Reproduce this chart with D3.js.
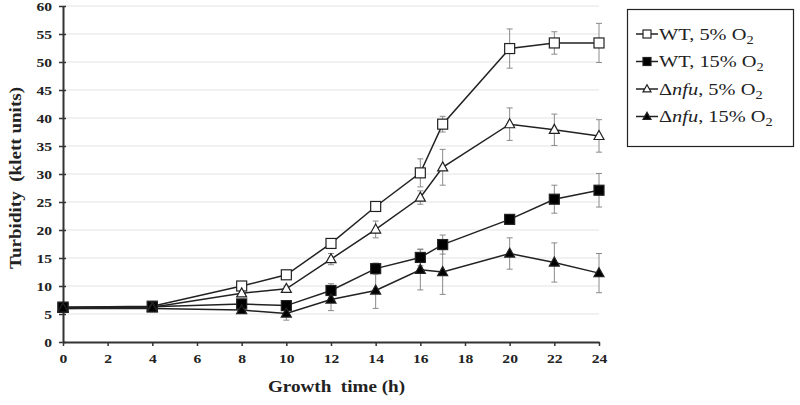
<!DOCTYPE html>
<html><head><meta charset="utf-8">
<script src="https://cdn.jsdelivr.net/npm/d3@7"></script>
<style>body{margin:0;background:#fff}svg{display:block}</style>
</head><body>
<svg id="c" width="800" height="405"></svg>
<script>
const hours = [0, 4, 8, 10, 12, 14, 16, 17, 20, 22, 24];
const xTicks = [0, 2, 4, 6, 8, 10, 12, 14, 16, 18, 20, 22, 24];
const yTicks = [0, 5, 10, 15, 20, 25, 30, 35, 40, 45, 50, 55, 60];

const wt5 = [6.2, 6.4, 10.0, 12.0, 17.6, 24.2, 30.2, 38.9, 52.4, 53.4, 53.4];
const wt5Err = [0.3, 0.3, 0.5, 0.5, 0.6, 0.6, 2.5, 1.4, 3.5, 2.0, 3.5];
const wt15 = [6.2, 6.3, 6.8, 6.5, 9.2, 13.1, 15.1, 17.4, 21.9, 25.5, 27.1];
const wt15Err = [0.3, 0.3, 0.5, 0.5, 1.2, 1.0, 1.5, 1.7, 0.5, 2.5, 3.0];
const nfu5 = [6.0, 6.2, 8.7, 9.5, 14.8, 20.1, 25.8, 31.2, 38.9, 37.9, 36.8];
const nfu5Err = [0.3, 0.3, 0.5, 0.5, 1.0, 1.5, 1.2, 3.2, 2.9, 2.8, 2.9];
const nfu15 = [6.0, 6.0, 5.7, 5.1, 7.6, 9.2, 12.9, 12.5, 15.8, 14.2, 12.3];
const nfu15Err = [0.3, 0.3, 0.5, 1.2, 2.0, 3.2, 3.6, 4.0, 2.8, 3.5, 3.5];

const seriesNames = ["WT, 5% O", "WT, 15% O", "nfu, 5% O", "nfu, 15% O"];

const series = [
  {name: seriesNames[0], vals: wt5, err: wt5Err, shape: "square", fill: "#fff", mut: false},
  {name: seriesNames[1], vals: wt15, err: wt15Err, shape: "square", fill: "#000", mut: false},
  {name: seriesNames[2], vals: nfu5, err: nfu5Err, shape: "triangle", fill: "#fff", mut: true},
  {name: seriesNames[3], vals: nfu15, err: nfu15Err, shape: "triangle", fill: "#000", mut: true}
];

const svg = d3.select("#c");
const x = d3.scaleLinear().domain([0, 24]).range([63, 599]);
const y = d3.scaleLinear().domain([0, 60]).range([342, 6]);
const serif = "'Liberation Serif','Times New Roman',serif";

// gridlines
svg.append("g").selectAll("line").data(yTicks.filter(d => d > 0)).join("line")
  .attr("x1", x(0)).attr("x2", x(24))
  .attr("y1", d => y(d)).attr("y2", d => y(d))
  .attr("stroke", "#e3e3e3").attr("stroke-width", 1.2);

// axes
const yAxis = svg.append("g").attr("transform", `translate(${x(0)},0)`)
  .call(d3.axisLeft(y).tickValues(yTicks).tickSizeInner(4).tickSizeOuter(0).tickPadding(6));
yAxis.selectAll(".tick line").attr("x2", 3).attr("x1", -4);
const xAxis = svg.append("g").attr("transform", `translate(0,${y(0)})`)
  .call(d3.axisBottom(x).tickValues(xTicks).tickSizeInner(4).tickSizeOuter(0).tickPadding(8));
[yAxis, xAxis].forEach(g => {
  g.attr("font-size", 13).attr("font-family", serif);
  g.select(".domain").attr("stroke", "#333").attr("stroke-width", 2);
  g.selectAll(".tick line").attr("stroke", "#333").attr("stroke-width", 1.5);
  g.selectAll("text").attr("font-family", serif).attr("font-weight", "bold")
    .attr("font-size", 13).attr("fill", "#222");
});
yAxis.selectAll(".tick text").attr("x", 0).attr("transform", "translate(-11,0) scale(1.2,1)");
xAxis.selectAll(".tick text").attr("transform", "scale(1.2,1)");

// axis titles
svg.append("text").attr("x", 268).attr("y", 392)
  .attr("font-family", serif).attr("font-weight", "bold").attr("font-size", 17).attr("fill", "#222")
  .attr("textLength", 137).attr("lengthAdjust", "spacingAndGlyphs")
  .text("Growth\u00a0\u00a0time (h)");
svg.append("text").attr("transform", "translate(21,178) rotate(-90)").attr("text-anchor", "middle")
  .attr("font-family", serif).attr("font-weight", "bold").attr("font-size", 17).attr("fill", "#222")
  .attr("textLength", 182).attr("lengthAdjust", "spacingAndGlyphs")
  .text("Turbidity\u00a0\u00a0(klett units)");

function drawMarker(g, shape, fill, cx, cy, s) {
  if (shape === "square") {
    g.append("rect").attr("x", cx - s/2).attr("y", cy - s/2).attr("width", s).attr("height", s)
      .attr("fill", fill).attr("stroke", "#222").attr("stroke-width", 1.2);
  } else {
    const h = s * 0.9;
    g.append("path").attr("d", `M${cx},${cy - h*0.6}L${cx + s/2},${cy + h*0.4}L${cx - s/2},${cy + h*0.4}Z`)
      .attr("fill", fill).attr("stroke", "#222").attr("stroke-width", 1.2);
  }
}

const plot = svg.append("g");
// error bars
series.forEach(s => {
  const g = plot.append("g");
  hours.forEach((h, i) => {
    const cx = x(h), top = y(s.vals[i] + s.err[i]), bot = y(s.vals[i] - s.err[i]);
    g.append("line").attr("x1", cx).attr("x2", cx).attr("y1", top).attr("y2", bot)
      .attr("stroke", "#8a8a8a").attr("stroke-width", 1);
    [top, bot].forEach(yy => g.append("line").attr("x1", cx - 3).attr("x2", cx + 3)
      .attr("y1", yy).attr("y2", yy).attr("stroke", "#8a8a8a").attr("stroke-width", 1));
  });
});
// lines
const line = d3.line().x((d, i) => x(hours[i])).y(d => y(d));
series.forEach(s => {
  plot.append("path").attr("d", line(s.vals)).attr("fill", "none")
    .attr("stroke", "#222").attr("stroke-width", 1.5);
});
// markers
series.forEach(s => {
  const g = plot.append("g");
  hours.forEach((h, i) => drawMarker(g, s.shape, s.fill, x(h), y(s.vals[i]), 10));
});

// legend
const lg = svg.append("g");
lg.append("rect").attr("x", 627.5).attr("y", 9.5).attr("width", 166).attr("height", 137)
  .attr("fill", "#fff").attr("stroke", "#222").attr("stroke-width", 1.2);
series.forEach((s, i) => {
  const cy = 34 + i * 27.5;
  const g = lg.append("g");
  g.append("line").attr("x1", 636).attr("x2", 658).attr("y1", cy).attr("y2", cy)
    .attr("stroke", "#222").attr("stroke-width", 1.5);
  drawMarker(g, s.shape, s.fill, 647, cy, 8);
  const t = g.append("text").attr("transform", `translate(659,${cy + 5.5}) scale(1.2,1)`)
    .attr("font-family", serif).attr("font-size", 17).attr("fill", "#222");
  if (s.mut) {
    t.append("tspan").text("\u0394");
    t.append("tspan").attr("font-style", "italic").text(s.name.split(",")[0]);
    t.append("tspan").text("," + s.name.split(",")[1]);
  } else {
    t.append("tspan").text(s.name);
  }
  t.append("tspan").attr("font-size", 12).attr("dy", 4).text("2");
});
</script>
</body></html>
